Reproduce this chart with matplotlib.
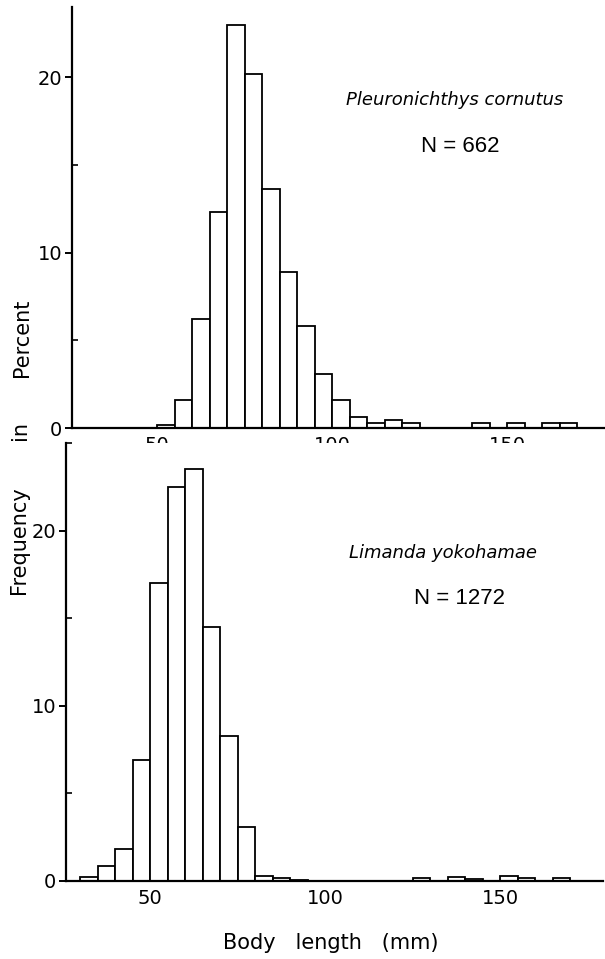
import numpy as np
import matplotlib
matplotlib.use('Agg')
import matplotlib.pyplot as plt
from matplotlib.ticker import MultipleLocator

plt.rcParams['font.family'] = ['DejaVu Sans']

# bin left edges (mm) and percent frequency, 5 mm classes
pc_bins = [50, 55, 60, 65, 70, 75, 80, 85, 90, 95, 100, 105, 110, 115, 120,
           140, 150, 160, 165]
pc_pct = [0.15, 1.6, 6.2, 12.3, 23.0, 20.2, 13.6, 8.9, 5.8, 3.1, 1.6, 0.6,
          0.3, 0.45, 0.3, 0.3, 0.3, 0.3, 0.3]

ly_bins = [30, 35, 40, 45, 50, 55, 60, 65, 70, 75, 80, 85, 90,
           125, 135, 140, 150, 155, 165]
ly_pct = [0.23, 0.86, 1.8, 6.9, 17.0, 22.5, 23.5, 14.5, 8.25, 3.1, 0.3, 0.15,
          0.08, 0.15, 0.2, 0.1, 0.3, 0.15, 0.15]

species = ['Pleuronichthys cornutus', 'Limanda yokohamae']
n_fish = ['N = 662', 'N = 1272']
BIN = 5

W, H = 605, 959
fig = plt.figure(figsize=(W / 100, H / 100), dpi=100)


def px_axes(left, top, right, bottom):
    return fig.add_axes([left / W, 1 - bottom / H, (right - left) / W, (bottom - top) / H])


def draw_hist(ax, bins, pct, ytop, xlim):
    ax.bar(bins, pct, width=BIN, align='edge', color='white',
           edgecolor='black', linewidth=1.3)
    ax.set_xlim(*xlim)
    ax.set_ylim(0, ytop)
    for s in ['top', 'right']:
        ax.spines[s].set_visible(False)
    for s in ['left', 'bottom']:
        ax.spines[s].set_linewidth(1.6)
    ax.set_xticks([50, 100, 150])
    ax.set_yticks([0, 10, 20])
    ax.yaxis.set_minor_locator(MultipleLocator(5))
    ax.tick_params(axis='x', length=0, labelsize=14, pad=6)
    ax.tick_params(axis='y', which='major', direction='out', length=5,
                   width=1.4, labelsize=14, pad=2)
    ax.tick_params(axis='y', which='minor', direction='in', length=4, width=1.2)


ax1 = px_axes(72, 7, 605, 428)
draw_hist(ax1, pc_bins, pc_pct, 24, (25.7, 178))

ax2 = px_axes(66, 443, 603, 881)
draw_hist(ax2, ly_bins, ly_pct, 25, (25.9, 179.4))

# species names and sample sizes
fig.text(455 / W, 1 - 100 / H, species[0], style='italic', fontsize=13,
         ha='center', va='center')
fig.text(460 / W, 1 - 146 / H, n_fish[0], family='Liberation Sans',
         fontsize=16, ha='center', va='center')
fig.text(443 / W, 1 - 553 / H, species[1], style='italic', fontsize=13,
         ha='center', va='center')
fig.text(459 / W, 1 - 599 / H, n_fish[1], family='Liberation Sans',
         fontsize=16, ha='center', va='center')

# shared y label, widely spaced words
fig.text(22 / W, 1 - 338 / H, 'Percent', rotation=90, fontsize=15,
         ha='center', va='center')
fig.text(20 / W, 1 - 431 / H, 'in', rotation=90, fontsize=15,
         ha='center', va='center')
fig.text(19 / W, 1 - 540 / H, 'Frequency', rotation=90, fontsize=15,
         ha='center', va='center')

fig.text(331 / W, 1 - 943 / H, 'Body   length   (mm)', fontsize=15,
         ha='center', va='center')

fig.savefig('out.png', dpi=100)
